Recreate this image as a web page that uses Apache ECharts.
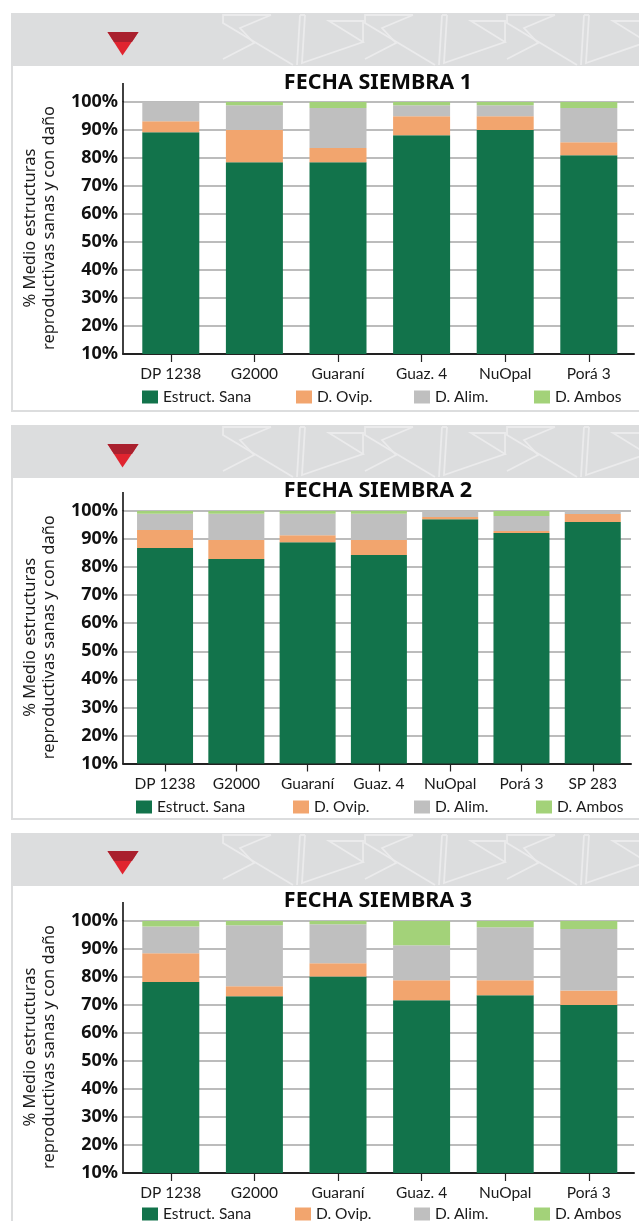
<!DOCTYPE html>
<html><head><meta charset="utf-8">
<style>html,body{margin:0;padding:0;background:#fff}#c{width:639px;height:1221px}</style>
<script src="https://cdn.jsdelivr.net/npm/echarts@6/dist/echarts.min.js"></script>
</head><body><div id="c"></div>
<script>
const seriesNames = ['Estruct. Sana','D. Ovip.','D. Alim.','D. Ambos'];
const seriesColors = ['#12734b','#f2a56e','#bfbfbf','#a3d279'];
const yTicks = [10,20,30,40,50,60,70,80,90,100];

const titles = ['FECHA SIEMBRA 1','FECHA SIEMBRA 2','FECHA SIEMBRA 3'];

const cats1 = ['DP 1238','G2000','Guaraní','Guaz. 4','NuOpal','Porá 3'];
const sana1 = [89.2,78.5,78.5,88.1,90.0,81.0];
const ovip1 = [3.9,11.5,5.1,6.8,4.9,4.6];
const alim1 = [6.9,8.8,14.3,3.9,3.9,12.3];
const ambos1 = [0,1.2,2.1,1.2,1.2,2.1];

const cats2 = ['DP 1238','G2000','Guaraní','Guaz. 4','NuOpal','Porá 3','SP 283'];
const sana2 = [86.8,82.9,88.9,84.3,97.1,92.2,96.1];
const ovip2 = [6.4,6.8,2.5,5.4,0.8,0.7,2.8];
const alim2 = [5.8,9.3,7.6,9.3,2.1,5.3,1.1];
const ambos2 = [1.0,1.0,1.0,1.0,0,1.8,0];

const cats3 = ['DP 1238','G2000','Guaraní','Guaz. 4','NuOpal','Porá 3'];
const sana3 = [78.2,73.1,80.2,71.7,73.5,70.0];
const ovip3 = [10.3,3.6,4.7,7.1,5.3,5.2];
const alim3 = [9.5,21.8,13.9,12.5,19.0,21.9];
const ambos3 = [2.0,1.5,1.2,8.7,2.2,2.9];

const charts = [
  {cats:cats1, vals:[sana1,ovip1,alim1,ambos1], title:titles[0]},
  {cats:cats2, vals:[sana2,ovip2,alim2,ambos2], title:titles[1]},
  {cats:cats3, vals:[sana3,ovip3,alim3,ambos3], title:titles[2]}
];

// layout only
const layouts = [
  {panelTop:13, headH:53, panelBottom:412, gridTop:102, gridH:252, right:634, barLeft:129, barW:501.6, axisTop:83, titleY:83, triTop:32,
   legendY:397, legendX:[142,296,414,534]},
  {panelTop:425, headH:53, panelBottom:820, gridTop:511, gridH:252.5, right:631, barLeft:129.4, barW:499, axisTop:492, titleY:491, triTop:444,
   legendY:807, legendX:[136,293,414,536]},
  {panelTop:833, headH:53, panelBottom:1260, gridTop:921, gridH:252, right:634, barLeft:129, barW:501.6, axisTop:902, titleY:901, triTop:851,
   legendY:1214, legendX:[142,295,414,534]}
];

const FONT_NARROW = 'Lato,"Noto Sans",sans-serif';
const FONT = '"Noto Sans",sans-serif';

const grid=[], xAxis=[], yAxis=[], series=[], legend=[], title=[], graphic=[];
const deco = '#ebebec';

function decor(top){
  const dy = top-13, out=[];
  [0,142,284].forEach(dx=>{
    const shapes = [
      [[271,15],[223,15],[223,23],[293,65]],
      [[271,15],[240,28],[254,43],[223,59]],
      [[300,15],[297,65]],
      [[305,15],[302,63],[363,42],[329,21],[363,21],[363,43]],
      [[300,15],[305,15]]
    ];
    shapes.forEach(s=>out.push({type:'polyline',z:-8,silent:true,
      shape:{points:s.map(p=>[p[0]+dx,p[1]+dy])},
      style:{stroke:deco,lineWidth:1.8,fill:null}}));
  });
  return out;
}

charts.forEach((c,i)=>{
  const L = layouts[i];
  const fg = i*2, bg = i*2+1;
  // panel
  graphic.push({type:'rect',z:-10,silent:true,shape:{x:11,y:L.panelTop,width:640,height:L.panelBottom-L.panelTop},style:{fill:'#dcddde'}});
  graphic.push({type:'rect',z:-9,silent:true,shape:{x:13,y:L.panelTop+L.headH,width:640,height:L.panelBottom-L.panelTop-L.headH-2},style:{fill:'#ffffff'}});
  decor(L.panelTop).forEach(d=>graphic.push(d));
  // header triangle
  graphic.push({type:'polygon',z:-7,silent:true,shape:{points:[[107.5,L.triTop],[138.5,L.triTop],[122.5,L.triTop+23.5]]},style:{fill:'#e0242f'}});
  graphic.push({type:'polygon',z:-6,silent:true,shape:{points:[[107.5,L.triTop],[138.5,L.triTop],[132,L.triTop+10],[114,L.triTop+10]]},style:{fill:'#a9202e'}});
  // upward extension of the y axis line
  graphic.push({type:'line',z:5,silent:true,shape:{x1:123,y1:L.axisTop,x2:123,y2:L.gridTop},style:{stroke:'#111',lineWidth:1.6}});

  title.push({text:c.title,left:378,top:L.titleY-11,textAlign:'center',padding:0,
    textStyle:{fontFamily:FONT,fontWeight:'bold',fontSize:21.5,color:'#0a0a0a'}});

  // frame grid: axes and gridlines
  grid.push({left:123,width:L.right-123,top:L.gridTop,height:L.gridH,containLabel:false});
  xAxis.push({type:'category',gridIndex:fg,data:[''],axisTick:{show:false},axisLabel:{show:false},
    axisLine:{show:true,lineStyle:{color:'#222',width:2}},splitLine:{show:false}});
  yAxis.push({type:'value',gridIndex:fg,min:yTicks[0],max:yTicks[yTicks.length-1],interval:10,
    name:'% Medio estructuras\nreproductivas sanas y con daño',nameLocation:'middle',nameRotate:90,nameGap:64,
    nameTextStyle:{fontFamily:FONT,fontSize:16.5,lineHeight:19,color:'#1a1a1a'},
    axisLine:{show:true,onZero:false,lineStyle:{color:'#111',width:1.6}},
    axisTick:{show:false},
    axisLabel:{fontFamily:FONT,fontWeight:'bold',fontSize:18,color:'#111',margin:5,formatter:'{value}%',padding:[4,0,0,0]},
    splitLine:{show:true,lineStyle:{color:'#a6a6a6',width:1.5}}});

  // bar grid: categories and stacked bars
  grid.push({left:L.barLeft,width:L.barW,top:L.gridTop,height:L.gridH});
  xAxis.push({type:'category',gridIndex:bg,data:c.cats,
    axisLine:{show:false},
    axisTick:{show:true,alignWithLabel:true,length:8,lineStyle:{color:'#222',width:1.2}},
    axisLabel:{fontFamily:FONT_NARROW,fontSize:15.5,color:'#1a1a1a',margin:12,interval:0},
    splitLine:{show:false}});
  yAxis.push({type:'value',gridIndex:bg,min:yTicks[0],max:yTicks[yTicks.length-1],interval:10,show:false,splitLine:{show:false}});

  seriesNames.forEach((n,k)=>{
    series.push({type:'bar',name:n,stack:'s'+i,xAxisIndex:bg,yAxisIndex:bg,data:c.vals[k],
      barWidth:i===1?56:57,clip:true,z:3,itemStyle:{color:seriesColors[k]},animation:false,silent:true});
    legend.push({data:[n],left:L.legendX[k],top:L.legendY-8,padding:0,itemWidth:16,itemHeight:13,
      icon:'rect',selectedMode:false,
      textStyle:{fontFamily:FONT_NARROW,fontSize:15.5,color:'#1a1a1a'}});
  });
});

const chart = echarts.init(document.getElementById('c'),null,{renderer:'canvas'});
chart.setOption({animation:false,backgroundColor:'#ffffff',title,grid,xAxis,yAxis,series,legend,graphic:{elements:graphic}});
</script></body></html>
